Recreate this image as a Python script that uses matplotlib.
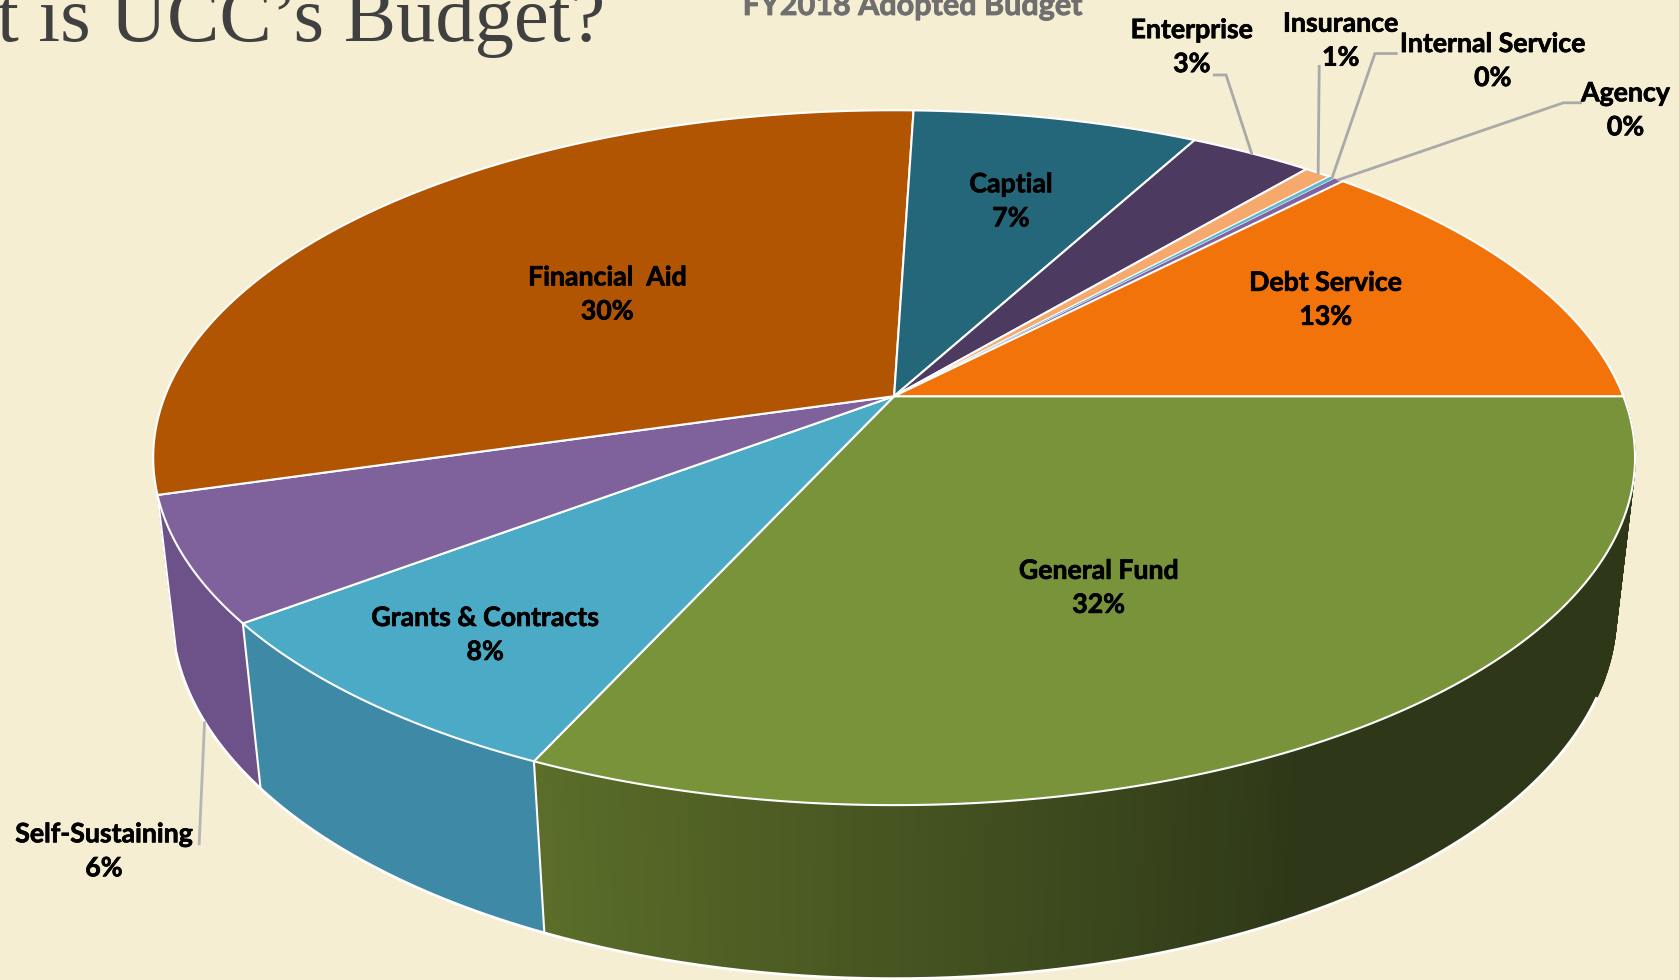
import numpy as np
import matplotlib
matplotlib.use("Agg")
import matplotlib.pyplot as plt
import matplotlib.patheffects as pe
from matplotlib.collections import PolyCollection
from matplotlib.colors import to_rgb

# FY2018 budget shares, listed clockwise from the 3 o'clock position
funds = ["General Fund", "Grants & Contracts", "Self-Sustaining", "Financial  Aid", "Captial",
         "Enterprise", "Insurance", "Internal Service", "Agency", "Debt Service"]
shares = [31.8, 7.9, 5.8, 30.0, 7.4, 3.2, 0.7, 0.15, 0.25, 12.8]
top_colors = ["#78933a", "#4baac5", "#7f619c", "#b25503", "#24677a",
              "#4d3a60", "#f6a96c", "#5cb8cf", "#8064a2", "#f1730a"]
# Only the three front slices show an outer wall
side_colors = ["#5b6e29", "#3e89a6", "#6d5289"]
side_dark_general = "#2e3818"

BG = "#f5eed2"
S = 1679 / 1568

# Perspective camera for the disc: screen position of a point (u, v) on the
# unit circle, at height 0 on the top face and depth 1 on the bottom face.
CX, CY = 835 * S, 370 * S
A, B = 681 * S, 314.3 * S
K, M, C = 0.177, 0.025, 147 * S


def project(theta, depth=0.0):
    """theta is measured clockwise from 3 o'clock, in degrees."""
    t = np.radians(theta)
    u, v = np.cos(t), -np.sin(t)
    w = 1 + K * v + M * depth
    return CX + A * u / w, CY - (B * v - C * depth) / w


edges = np.concatenate([[0], np.cumsum(shares)]) * 360 / np.sum(shares)

fig = plt.figure(figsize=(16.79, 9.80), dpi=100, facecolor=BG)
ax = fig.add_axes([0, 0, 1, 1])
ax.set_xlim(0, 1679)
ax.set_ylim(980, 0)
ax.axis("off")

# Outer wall: narrow quads sorted back to front
quads, quad_colors, quad_depth = [], [], []
for i in range(len(side_colors)):
    th = np.linspace(edges[i], edges[i + 1], max(3, int((edges[i + 1] - edges[i]) * 3)))
    for a, b in zip(th[:-1], th[1:]):
        xa0, ya0 = project(a)
        xb0, yb0 = project(b)
        xa1, ya1 = project(a, 1)
        xb1, yb1 = project(b, 1)
        quads.append([(xa0, ya0), (xb0, yb0), (xb1, yb1), (xa1, ya1)])
        mid = (a + b) / 2
        if i == 0:
            f = np.clip((edges[1] - mid) / (edges[1] - 62), 0, 1)
            col = np.array(to_rgb(side_colors[0])) * (1 - f) + np.array(to_rgb(side_dark_general)) * f
        else:
            col = to_rgb(side_colors[i])
        quad_colors.append(col)
        quad_depth.append(np.sin(np.radians(mid)))
order = np.argsort(quad_depth)
ax.add_collection(PolyCollection([quads[j] for j in order],
                                 facecolors=[quad_colors[j] for j in order],
                                 edgecolors=[quad_colors[j] for j in order],
                                 linewidths=1.0, zorder=1))

# White rim along the lower edge of the wall and the visible wall seams
rim = np.linspace(23, edges[3], 300)
ax.plot(*project(rim, 1), color="white", lw=2.0, zorder=2)
for i in (1, 2, 3):
    x0, y0 = project(edges[i])
    x1, y1 = project(edges[i], 1)
    ax.plot([x0, x1], [y0, y1], color="white", lw=1.5, zorder=2)

# Top face
for i in range(len(funds)):
    th = np.linspace(edges[i], edges[i + 1], max(3, int((edges[i + 1] - edges[i]) * 3)))
    xs, ys = project(th)
    ax.fill(np.r_[CX, xs], np.r_[CY, ys], facecolor=top_colors[i], edgecolor="white",
            lw=1.5 if shares[i] > 0.5 else 0.3, joinstyle="round", zorder=3)

# Data labels
label_font = dict(family="Lato", weight="bold", fontsize=19.2, color="black", ha="center",
                  va="center", linespacing=1.5, zorder=6,
                  path_effects=[pe.withStroke(linewidth=0.5, foreground="black")])
label_pos = {
    "General Fund": (1026, 549), "Grants & Contracts": (453, 593), "Financial  Aid": (567, 275),
    "Captial": (944, 188), "Debt Service": (1238, 280), "Self-Sustaining": (97, 795),
    "Enterprise": (1113, 44), "Insurance": (1252, 38), "Internal Service": (1394, 57),
    "Agency": (1518, 103),
}
for name, share in zip(funds, shares):
    x, y = label_pos[name]
    ax.text(x * S, y * S, f"{name}\n{round(share)}%", **label_font)

# Leader lines: elbow next to the label, tail on the slice's rim
leaders = {
    "Enterprise": [(1134, 70), (1145, 70)],
    "Insurance": [(1232, 62)],
    "Internal Service": [(1304, 50), (1284, 50)],
    "Agency": [(1476, 96), (1460, 96)],
}
for name, pts in leaders.items():
    i = funds.index(name)
    tx, ty = project((edges[i] + edges[i + 1]) / 2)
    xs = [p[0] * S for p in pts] + [tx]
    ys = [p[1] * S for p in pts] + [ty]
    ax.plot(xs, ys, color="#a9a9a9", lw=2, solid_joinstyle="miter", zorder=5)
ax.plot([186 * S, 191 * S], [788 * S, 675 * S], color="#b5b5b5", lw=2, zorder=5)

# Slide heading and chart title, both running off the top edge
ax.text(-3, 38 * S, "t is UCC\u2019s Budget?", family="Liberation Serif", fontsize=56.5,
        color="#404040", ha="left", va="baseline", clip_on=False, zorder=7)
ax.text(852 * S, 14 * S, "FY2018 Adopted Budget", family="Lato", weight="bold", fontsize=22,
        color="#6f6f6f", ha="center", va="baseline", zorder=7,
        path_effects=[pe.withStroke(linewidth=0.6, foreground="#6f6f6f")])

fig.savefig("out.png", dpi=100, facecolor=BG)
